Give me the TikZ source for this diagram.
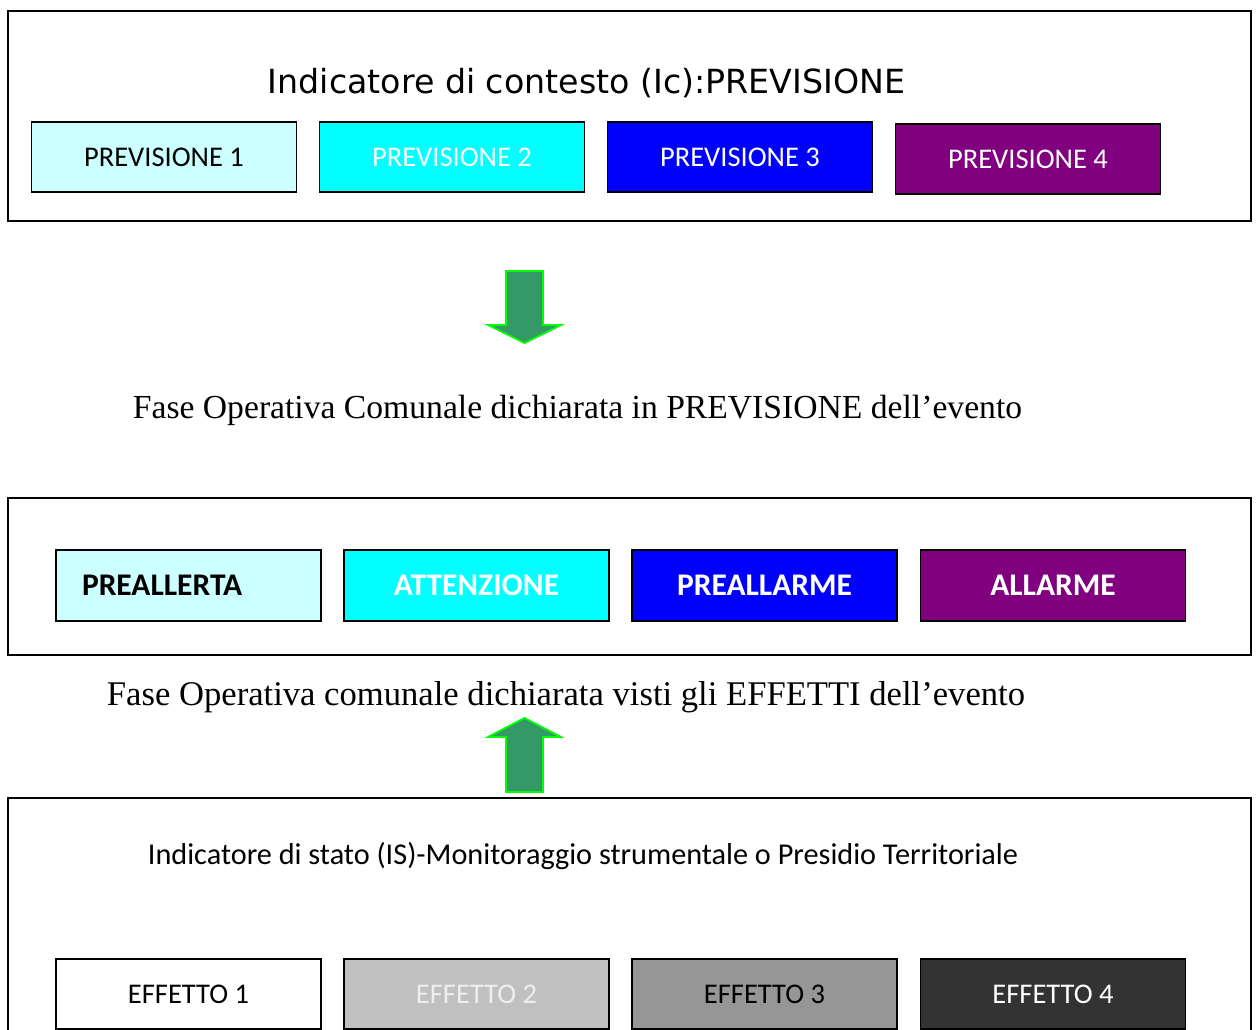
\documentclass[tikz,border=0pt]{standalone}
\usepackage{fontspec}
\setmainfont{Carlito}
\newfontfamily\verd{DejaVu Sans}
\newfontfamily\serifx{Liberation Serif}
\usepackage{graphicx}
\definecolor{pA}{HTML}{CCFFFF}
\definecolor{pB}{HTML}{00FFFF}
\definecolor{pC}{HTML}{0000FF}
\definecolor{pD}{HTML}{800080}
\definecolor{eB}{HTML}{C0C0C0}
\definecolor{eC}{HTML}{969696}
\definecolor{eD}{HTML}{333333}
\definecolor{eBtext}{HTML}{EEEEEE}
\definecolor{arrfill}{HTML}{339966}
\definecolor{arrline}{HTML}{00FF00}
\tikzset{
  outerbox/.style={draw=black, line width=2pt, fill=white},
  cbox/.style={draw=black, line width=1.8pt, minimum width=265pt, minimum height=70pt, inner sep=0pt, font=\fontsize{28.5}{30}\selectfont},
  bbox/.style={draw=black, line width=1.8pt, minimum width=265pt, minimum height=71pt, inner sep=0pt, font=\fontsize{31.5}{33}\selectfont\bfseries},
  blockarrow/.style={draw=arrline, line width=1.8pt, fill=arrfill, line join=miter},
  plain/.style={inner sep=0pt, anchor=center}
}
\begin{document}
\begin{tikzpicture}[x=1pt,y=-1pt]
\useasboundingbox (0,0) rectangle (1258,1030);
\fill[white] (0,0) rectangle (1258,1030);
% top frame
\draw[outerbox] (8,11) rectangle (1251,221);
\node[plain] (ttitle) at (586.5,83) {\resizebox{637pt}{!}{\verd Indicatore di contesto (Ic):PREVISIONE}};
\node[cbox, fill=pA, text=black] (p1) at (164,157) {PREVISIONE 1};
\node[cbox, fill=pB, text=white] (p2) at (452,157) {PREVISIONE 2};
\node[cbox, fill=pC, text=white] (p3) at (740,157) {PREVISIONE 3};
\node[cbox, fill=pD, text=white] (p4) at (1028,159) {PREVISIONE 4};
% down arrow
\coordinate (da) at (524.5,271);
\draw[blockarrow] (506,271) -- (543,271) -- (543,325) -- (561,325) -- (524.5,343) -- (488,325) -- (506,325) -- cycle;
\node[plain] (fase1) at (577.5,410) {\resizebox{889pt}{!}{\serifx Fase Operativa Comunale dichiarata in PREVISIONE dell’evento}};
% middle frame
\draw[outerbox] (8,498) rectangle (1251,655);
\node[bbox, fill=pA, text=black, text width=213pt, align=left, inner xsep=26pt] (f1) at (188.5,585.5) {PREALLERTA};
\node[bbox, fill=pB, text=white] (f2) at (476.5,585.5) {ATTENZIONE};
\node[bbox, fill=pC, text=white] (f3) at (764.5,585.5) {PREALLARME};
\node[bbox, fill=pD, text=white] (f4) at (1053,585.5) {ALLARME};
\node[plain] (fase2) at (566,697) {\resizebox{918pt}{!}{\serifx Fase Operativa comunale dichiarata visti gli EFFETTI dell’evento}};
% up arrow
\draw[blockarrow] (506,792) -- (543,792) -- (543,737) -- (561,737) -- (524.5,718) -- (488,737) -- (506,737) -- cycle;
% bottom frame
\draw[outerbox] (8,798) rectangle (1251,1040);
\node[plain] (btitle) at (583,856) {\resizebox{870pt}{!}{Indicatore di stato (IS)-Monitoraggio strumentale o Presidio Territoriale}};
\node[cbox, fill=white, text=black] (e1) at (188.5,994) {EFFETTO 1};
\node[cbox, fill=eB, text=eBtext] (e2) at (476.5,994) {EFFETTO 2};
\node[cbox, fill=eC, text=black] (e3) at (764.5,994) {EFFETTO 3};
\node[cbox, fill=eD, text=white] (e4) at (1053,994) {EFFETTO 4};
\end{tikzpicture}
\end{document}
